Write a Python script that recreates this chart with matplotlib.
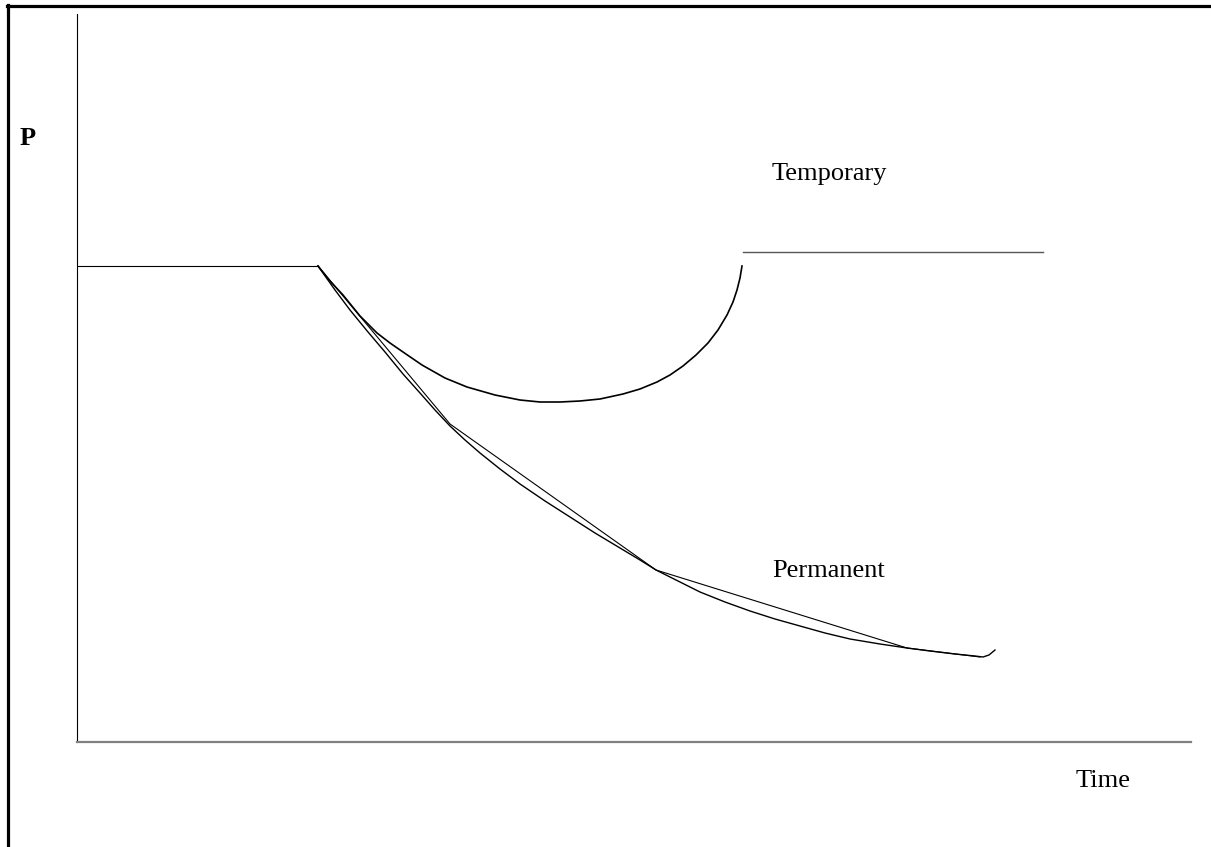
import matplotlib.pyplot as plt
from matplotlib.lines import Line2D

# values (time units, P units)
base_t = [0, 241]
base_p = [476, 476]

recover_t = [666, 966]
recover_p = [490, 490]

temp_t = [241, 253, 266, 283, 300, 313, 326, 345, 368, 390, 418, 443, 463, 483, 503,
          523, 546, 563, 580, 593, 606, 619, 631, 641, 650, 656, 660, 663, 665]
temp_p = [476, 461, 447, 426, 409, 399, 390, 377, 364, 355, 347, 342, 340, 340, 341,
          343, 348, 353, 360, 367, 376, 387, 399, 412, 427, 440, 452, 464, 476]

perm_t = [241, 258, 273, 291, 308, 326, 343, 358, 373, 388, 403, 423, 443, 468, 493, 518,
          543, 563, 579, 603, 623, 648, 673, 698, 723, 748, 773, 803, 830, 853, 878, 898,
          906, 912, 918]
perm_p = [476, 452, 432, 410, 390, 368, 349, 332, 316, 302, 289, 273, 258, 241, 225, 209,
          194, 182, 172, 160, 150, 140, 131, 123, 116, 109, 103, 98, 94, 91, 88, 86,
          85, 87, 92]

perm_chord_t = [241, 373, 579, 830, 903]
perm_chord_p = [476, 318, 172, 94, 85]

W, H = 1211, 847
fig = plt.figure(figsize=(W / 100, H / 100), dpi=100)
ax = fig.add_axes([77 / W, (H - 742) / H, (1191 - 77) / W, (742 - 14) / H])

ax.plot(base_t, base_p, color='black', lw=0.8)
ax.plot(recover_t, recover_p, color='#555555', lw=1.0)
ax.plot(temp_t, temp_p, color='black', lw=1.2, solid_joinstyle='round')
ax.plot(perm_t, perm_p, color='black', lw=1.0, solid_joinstyle='round')
ax.plot(perm_chord_t, perm_chord_p, color='black', lw=0.8)

ax.set_xlim(0, 1114)
ax.set_ylim(0, 728)
ax.set_xticks([])
ax.set_yticks([])
for s in ['top', 'right']:
    ax.spines[s].set_visible(False)
ax.spines['left'].set_linewidth(0.8)
ax.spines['bottom'].set_color('#808080')
ax.spines['bottom'].set_linewidth(1.6)

font = ['Liberation Serif', 'DejaVu Serif']
fig.text(20 / W, 1 - 145 / H, 'P', family=font, fontsize=19, fontweight='bold', va='baseline')
fig.text(772 / W, 1 - 180 / H, 'Temporary', family=font, fontsize=19, va='baseline')
fig.text(772 / W, 1 - 577 / H, 'Permanent', family=font, fontsize=19, va='baseline')
fig.text(1076 / W, 1 - 787 / H, 'Time', family=font, fontsize=19, va='baseline')

# frame around the picture (cut at right and bottom)
fig.add_artist(Line2D([7 / W, 1], [1 - 6 / H, 1 - 6 / H], color='black', lw=2.3, transform=fig.transFigure))
fig.add_artist(Line2D([8 / W, 8 / W], [1 - 5 / H, 0], color='black', lw=2.3, transform=fig.transFigure))

fig.savefig('out.png', dpi=100)
